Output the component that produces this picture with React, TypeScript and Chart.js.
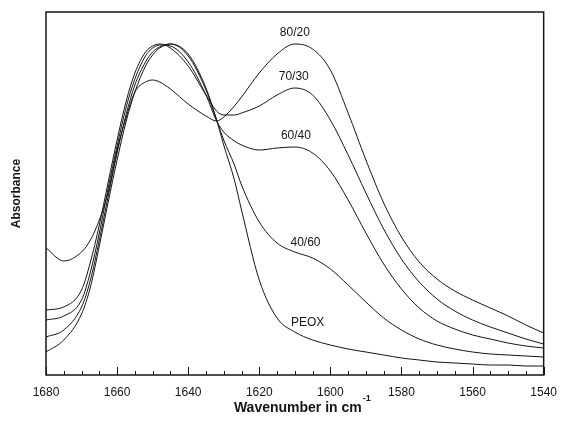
import React, { useEffect, useRef } from "react";
import { Chart, registerables } from "chart.js";

Chart.register(...registerables);

// Wavenumber grid (cm^-1)
const wavenumbers = [1680, 1675, 1670, 1667.5, 1665, 1662.5, 1660, 1657.5, 1655, 1652, 1650, 1648, 1645, 1640, 1635, 1632, 1630, 1627, 1625, 1620, 1615, 1610, 1605, 1600, 1595, 1590, 1585, 1580, 1575, 1570, 1565, 1560, 1555, 1550, 1545, 1540];

// Absorbance (arbitrary units, normalised)
const abs8020 = [127, 114, 123, 135, 155, 183, 225, 257, 283, 293, 295, 293, 286, 271, 259, 254, 258, 269, 278, 302, 321, 331, 326, 305, 262, 215, 172, 138, 113, 96, 84, 75, 67, 59, 50, 42];
const abs7030 = [65, 68, 85, 113, 150, 193, 235, 273, 302, 323, 329, 331, 327, 309, 280, 264, 260, 260, 262, 269, 280, 287, 280, 255, 220, 182, 146, 116, 93, 76, 64, 55, 48, 42, 36, 31];
const abs6040 = [55, 59, 75, 103, 142, 187, 229, 267, 296, 319, 327, 330, 329, 313, 280, 254, 243, 234, 230, 225, 227, 228, 222, 204, 175, 142, 111, 86, 67, 54, 46, 40, 36, 32, 29, 27];
const abs4060 = [38, 45, 68, 95, 135, 179, 222, 260, 290, 313, 323, 328, 331, 319, 285, 255, 235, 210, 190, 153, 132, 123, 117, 106, 90, 73, 57, 45, 36, 30, 26, 23, 21, 20, 19, 18];
const absPEOX = [23, 35, 61, 88, 129, 173, 215, 253, 283, 309, 320, 327, 331, 321, 287, 255, 230, 195, 165, 95, 57, 43, 35, 30, 26, 23, 20, 17, 15, 13, 12, 11, 10, 10, 9, 9];

const seriesNames = ["80/20", "70/30", "60/40", "40/60", "PEOX"];
const seriesValues = [abs8020, abs7030, abs6040, abs4060, absPEOX];

// Curve annotations (position in data units)
const labelWn = [1610, 1610.3, 1609.7, 1607, 1606.4];
const labelAbs = [342, 298, 239, 132, 52];

const xMin = 1540;
const xMax = 1680;
const yMax = 363;
const xTitle = "Wavenumber in cm";
const xTitleSup = "-1";
const yTitle = "Absorbance";

const FONT = "'Liberation Sans', Arial, Helvetica, sans-serif";
const INK = "#151515";

const framePlugin = {
  id: "frame",
  afterDatasetsDraw(chart: any) {
    const { ctx, chartArea, scales } = chart;
    const { left, right, top, bottom } = chartArea;
    const x = scales.x;
    const y = scales.y;
    ctx.save();
    ctx.strokeStyle = INK;
    ctx.lineWidth = 1.5;
    ctx.strokeRect(left, top, right - left, bottom - top);
    // inward ticks on bottom axis
    ctx.lineWidth = 1;
    for (let w = xMin; w <= xMax; w += 5) {
      const px = Math.round(x.getPixelForValue(w)) + 0.5;
      const len = w % 20 === 0 ? 8 : 4;
      ctx.beginPath();
      ctx.moveTo(px, bottom);
      ctx.lineTo(px, bottom - len);
      ctx.stroke();
    }
    // curve labels
    ctx.fillStyle = INK;
    ctx.font = `12px ${FONT}`;
    ctx.textAlign = "center";
    ctx.textBaseline = "middle";
    seriesNames.forEach((n, i) => {
      ctx.fillText(n, x.getPixelForValue(labelWn[i]), y.getPixelForValue(labelAbs[i]));
    });
    // x title with superscript
    ctx.font = `bold 14px ${FONT}`;
    const mainW = ctx.measureText(xTitle).width;
    const cx = (left + right) / 2 + 3;
    const startX = cx - mainW / 2;
    ctx.textAlign = "left";
    ctx.textBaseline = "alphabetic";
    ctx.fillText(xTitle, startX, 412);
    ctx.font = `bold 9px ${FONT}`;
    ctx.fillText(xTitleSup, startX + mainW + 1, 401);
    // y title
    ctx.translate(17, (top + bottom) / 2);
    ctx.rotate(-Math.PI / 2);
    ctx.textAlign = "center";
    ctx.textBaseline = "middle";
    ctx.font = `bold 12px ${FONT}`;
    ctx.fillText(yTitle, 0, 0);
    ctx.restore();
  },
};

export default function App() {
  const ref = useRef<HTMLCanvasElement | null>(null);
  useEffect(() => {
    if (!ref.current) return;
    const chart = new Chart(ref.current, {
      type: "line",
      data: {
        datasets: seriesValues.map((vals, i) => ({
          label: seriesNames[i],
          data: wavenumbers.map((w, j) => ({ x: w, y: vals[j] })),
          borderColor: INK,
          borderWidth: 1,
          pointRadius: 0,
          fill: false,
          cubicInterpolationMode: "monotone" as const,
        })),
      },
      options: {
        animation: false,
        responsive: false,
        devicePixelRatio: 1,
        layout: { padding: { left: 0, right: 15, top: 12, bottom: 0 } },
        plugins: { legend: { display: false }, tooltip: { enabled: false } },
        scales: {
          x: {
            type: "linear",
            reverse: true,
            min: xMin,
            max: xMax,
            border: { display: false },
            grid: { display: false, drawTicks: false },
            ticks: {
              stepSize: 20,
              padding: 10,
              color: INK,
              font: { family: FONT, size: 12 },
              callback: (v: any) => String(v),
            },
            afterFit: (s: any) => {
              s.height = 49;
            },
          },
          y: {
            min: 0,
            max: yMax,
            border: { display: false },
            grid: { display: false, drawTicks: false },
            ticks: { display: false },
            afterFit: (s: any) => {
              s.width = 46;
            },
          },
        },
      },
      plugins: [framePlugin],
    });
    return () => chart.destroy();
  }, []);
  return (
    <div style={{ position: "absolute", left: 0, top: 0, width: 567, height: 424, background: "#fff" }}>
      <canvas ref={ref} width={567} height={424} style={{ width: 567, height: 424, display: "block" }} />
    </div>
  );
}
